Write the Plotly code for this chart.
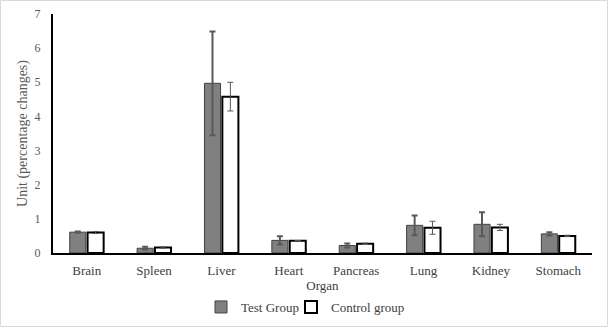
import plotly.graph_objects as go

organs = ["Brain", "Spleen", "Liver", "Heart", "Pancreas", "Lung", "Kidney", "Stomach"]
test_vals = [0.61, 0.14, 4.97, 0.37, 0.22, 0.81, 0.84, 0.56]
test_err = [0.02, 0.04, 1.52, 0.12, 0.06, 0.29, 0.35, 0.05]
ctrl_vals = [0.60, 0.16, 4.58, 0.36, 0.27, 0.74, 0.75, 0.50]
ctrl_err = [0.03, 0.02, 0.42, 0.0, 0.02, 0.19, 0.09, 0.02]
y_ticks = [0, 1, 2, 3, 4, 5, 6, 7]

FONT = "Liberation Serif, serif"
TXT = "#595959"
DARK = "#404040"

W, H = 609, 328
ml, mr, mt, mb = 53, 17, 14, 75
pw, ph = W - ml - mr, H - mt - mb


def px_x(p):
    return (p - ml) / pw


def px_y(p):
    return (mt + ph - p) / ph


fig = go.Figure()
fig.add_trace(go.Bar(
    x=organs, y=test_vals, name="Test Group", legend="legend",
    marker=dict(color="#808080", line=dict(color="#404040", width=1)),
    error_y=dict(type="data", array=test_err, color="#595959", thickness=2, width=3),
))
fig.add_trace(go.Bar(
    x=organs, y=ctrl_vals, name="Control group", legend="legend2",
    marker=dict(color="#ffffff", line=dict(color="#000000", width=2)),
    error_y=dict(type="data", array=ctrl_err, color="#595959", thickness=1, width=3),
))

leg_common = dict(orientation="h", yanchor="middle", y=px_y(307), xanchor="left",
                  font=dict(family=FONT, size=13, color=DARK),
                  bgcolor="rgba(0,0,0,0)", borderwidth=0)

fig.update_layout(
    template="none",
    width=W, height=H,
    margin=dict(l=ml, r=mr, t=mt, b=mb, pad=0, autoexpand=False),
    paper_bgcolor="white", plot_bgcolor="white",
    barmode="group", bargap=0.47, bargroupgap=0.1,
    font=dict(family=FONT, size=13, color=DARK),
    showlegend=True,
    legend=dict(x=px_x(201), **leg_common),
    legend2=dict(x=px_x(291), **leg_common),
    xaxis=dict(showline=True, linecolor="black", linewidth=2,
               ticks="outside", ticklen=4, tickcolor="rgba(0,0,0,0)",
               tickfont=dict(family=FONT, size=13, color=DARK),
               title=dict(text="Organ", standoff=0,
                          font=dict(family=FONT, size=13, color=DARK)),
               showgrid=False, zeroline=False, automargin=False),
    yaxis=dict(range=[0, 7], tickvals=y_ticks, showline=True, linecolor="black",
               linewidth=2, ticks="outside", ticklen=8, tickcolor="rgba(0,0,0,0)",
               showgrid=False, zeroline=False, automargin=False,
               tickfont=dict(family=FONT, size=12, color=TXT),
               title=dict(text="Unit (percentage changes)", standoff=4,
                          font=dict(family=FONT, size=14, color=TXT))),
    shapes=[dict(type="rect", xref="paper", yref="paper",
                 x0=-ml / pw + 0.5 / pw, x1=1 + (mr - 1.5) / pw,
                 y0=-(mb - 1.5) / ph, y1=1 + (mt - 0.5) / ph,
                 line=dict(color="#d9d9d9", width=1), layer="below")],
)

fig.write_html("out.html")
